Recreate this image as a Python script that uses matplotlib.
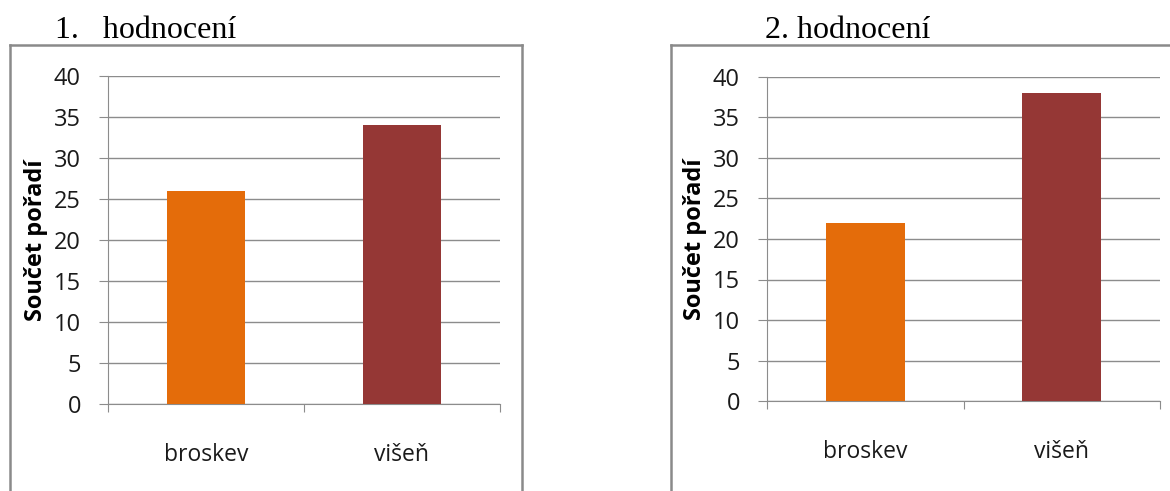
import matplotlib

matplotlib.use("Agg")
import matplotlib.pyplot as plt
from matplotlib.lines import Line2D

W, H = 1170, 491

categories = ["broskev", "višeň"]
scores_1 = [26, 34]
scores_2 = [22, 38]
titles = ["1.   hodnocení", "2. hodnocení"]
y_ticks = [0, 5, 10, 15, 20, 25, 30, 35, 40]

BAR_COLORS = ["#E46C0A", "#953735"]
GRID = "#8c8c8c"
FRAME = "#8a8a8a"
SANS = ["Open Sans", "DejaVu Sans"]
SERIF = ["Liberation Serif", "DejaVu Serif"]


def px_box(x0, y0, x1, y1):
    """pixel box (top-left origin) -> figure fraction rect"""
    return [x0 / W, 1 - y1 / H, (x1 - x0) / W, (y1 - y0) / H]


def frame(fig, x0, y0, x1, right=True):
    kw = dict(color=FRAME, linewidth=1.8, transform=fig.transFigure)
    fig.add_artist(Line2D([x0 / W, x0 / W], [0, 1 - y0 / H], **kw))
    fig.add_artist(Line2D([x0 / W, x1 / W], [1 - y0 / H, 1 - y0 / H], **kw))
    if right:
        fig.add_artist(Line2D([x1 / W, x1 / W], [0, 1 - y0 / H], **kw))


def draw_panel(ax, values):
    ax.bar(range(len(categories)), values, width=0.4, color=BAR_COLORS, zorder=3)
    ax.set_xlim(-0.5, len(categories) - 0.5)
    ax.set_ylim(0, 40)
    ax.set_yticks(y_ticks)
    ax.set_xticks([-0.5, 0.5, 1.5], minor=False)
    ax.set_xticklabels([])
    ax.set_xticks(range(len(categories)), minor=True)
    ax.set_xticklabels(categories, minor=True, fontsize=16.5, family=SANS, color="#1a1a1a")
    ax.tick_params(axis="x", which="minor", length=0, pad=28)
    ax.tick_params(axis="x", which="major", length=6, color=GRID, direction="out")
    ax.tick_params(axis="y", length=6.5, color=GRID, labelsize=17, pad=13, labelcolor="#1a1a1a")
    for lbl in ax.get_yticklabels():
        lbl.set_family(SANS)
    ax.grid(axis="y", color=GRID, linewidth=1.0, zorder=0)
    for side in ["top", "right"]:
        ax.spines[side].set_visible(False)
    ax.spines["left"].set_color(GRID)
    ax.spines["bottom"].set_color(GRID)
    ax.set_ylabel("Součet pořadí", fontsize=17, fontweight="bold", family=SANS, labelpad=4)


fig = plt.figure(figsize=(W / 100, H / 100), dpi=100)

ax1 = fig.add_axes(px_box(108, 76, 500, 404))
draw_panel(ax1, scores_1)
ax2 = fig.add_axes(px_box(767, 77, 1160, 401))
draw_panel(ax2, scores_2)

frame(fig, 10, 45, 522)
frame(fig, 671, 45, 1175, right=False)

fig.text(55 / W, 1 - 38 / H, titles[0], fontsize=23, family=SERIF)
fig.text(765 / W, 1 - 38 / H, titles[1], fontsize=23, family=SERIF)

fig.savefig("out.png", dpi=100)
